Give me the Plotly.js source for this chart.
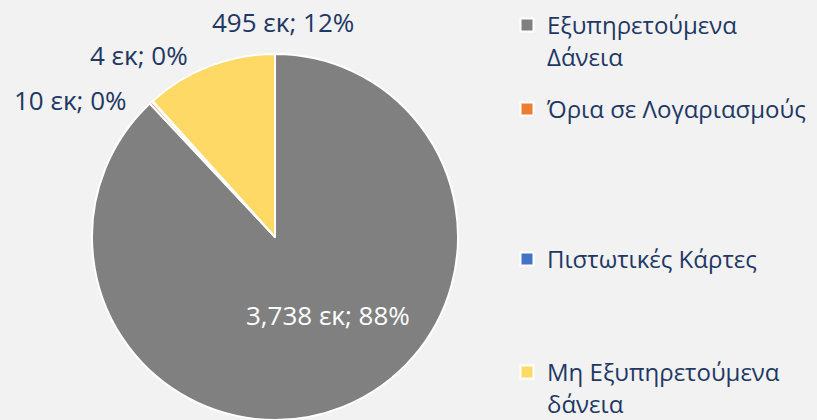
<!DOCTYPE html>
<html>
<head>
<meta charset="utf-8">
<script src="https://cdn.plot.ly/plotly-3.0.1.min.js"></script>
<style>html,body{margin:0;padding:0;background:#F2F2F2;}#chart{width:817px;height:420px;}</style>
</head>
<body>
<div id="chart"></div>
<script>
// Data
var categories = ["Εξυπηρετούμενα<br>Δάνεια", "Όρια σε Λογαριασμούς", "Πιστωτικές Κάρτες", "Μη Εξυπηρετούμενα<br>δάνεια"];
var values = [3738, 10, 4, 495];
var unit = "εκ";
var colors = ["#808080", "#ED7D31", "#4472C4", "#FFD966"];

var FONT = "Open Sans";
var NAVY = "#1F3864";
var total = values.reduce(function(a, b){ return a + b; }, 0);
function fmt(v){ return v.toLocaleString("en-US"); }
function labelText(i){ return fmt(values[i]) + " " + unit + "; " + Math.round(values[i] / total * 100) + "%"; }

var pie = {
  type: "pie",
  labels: categories,
  values: values,
  sort: false,
  direction: "clockwise",
  rotation: 0,
  marker: {colors: colors, line: {color: "#FFFFFF", width: 2}},
  textinfo: "none",
  domain: {x: [92/817, 458/817], y: [0, 1 - 54/420]},
  showlegend: false,
  hoverinfo: "label+value+percent"
};

// legend entries (one legend per entry to reproduce spacing)
var legendY = [3, 87, 237, 350];
var traces = [pie];
var layoutLegends = {};
categories.forEach(function(c, i){
  var key = i === 0 ? "legend" : "legend" + (i + 1);
  traces.push({
    type: "scatter", mode: "markers", x: [null], y: [null],
    name: c, legend: key, showlegend: true,
    marker: {symbol: "square", size: 13, color: colors[i], line: {color: "#FFFFFF", width: 2}},
    hoverinfo: "skip"
  });
  layoutLegends[key] = {
    x: 507/817, xanchor: "left", y: 1 - legendY[i]/420, yanchor: "top",
    bgcolor: "rgba(0,0,0,0)", valign: "top", itemsizing: "trace",
    font: {family: FONT, size: 24, color: NAVY}
  };
});

// data labels: [x, y, colour]
var labelPos = [[328, 315, "#FFFFFF"], [70, 100, NAVY], [139, 55, NAVY], [283, 22, NAVY]];
var annotations = [];
for (var i = 0; i < values.length; i++){
  annotations.push({
    text: labelText(i), showarrow: false,
    x: labelPos[i][0]/817, y: 1 - labelPos[i][1]/420,
    xref: "paper", yref: "paper", xanchor: "center", yanchor: "middle",
    font: {family: FONT, size: 26, color: labelPos[i][2]}
  });
}

var layout = Object.assign({
  width: 817, height: 420,
  margin: {l: 0, r: 0, t: 0, b: 0, autoexpand: false},
  paper_bgcolor: "#F2F2F2", plot_bgcolor: "rgba(0,0,0,0)",
  xaxis: {visible: false, domain: [0.99, 1]},
  yaxis: {visible: false, domain: [0.99, 1]},
  annotations: annotations,
  hovermode: false
}, layoutLegends);

Plotly.newPlot("chart", traces, layout, {displayModeBar: false, staticPlot: true});
</script>
</body>
</html>
